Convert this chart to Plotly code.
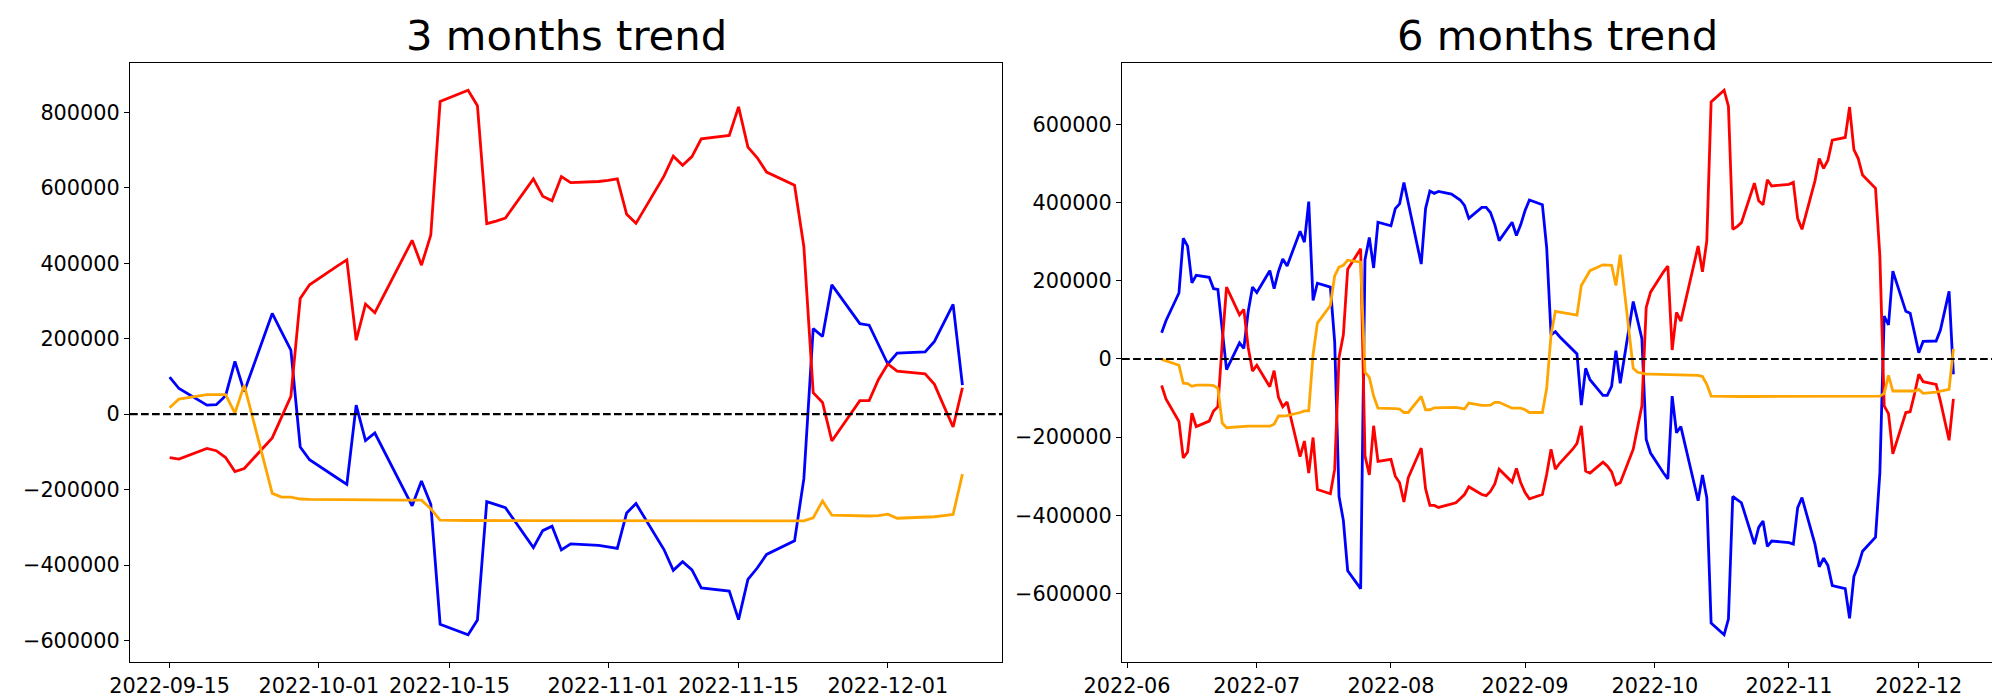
import datetime as _dt
import plotly.graph_objects as go
from plotly.subplots import make_subplots

# ---------------- 3 months data (values in thousands) ----------------
dates_3m = [
    "2022-09-15", "2022-09-16", "2022-09-19", "2022-09-20", "2022-09-21", "2022-09-22", "2022-09-23",
    "2022-09-26", "2022-09-27", "2022-09-28", "2022-09-29", "2022-09-30",
    "2022-10-03", "2022-10-04", "2022-10-05", "2022-10-06", "2022-10-07", "2022-10-10", "2022-10-11",
    "2022-10-12", "2022-10-13", "2022-10-14", "2022-10-17", "2022-10-18", "2022-10-19", "2022-10-20",
    "2022-10-21", "2022-10-24", "2022-10-25", "2022-10-26", "2022-10-27", "2022-10-28", "2022-10-31",
    "2022-11-01", "2022-11-02", "2022-11-03", "2022-11-04", "2022-11-07", "2022-11-08", "2022-11-09",
    "2022-11-10", "2022-11-11", "2022-11-14", "2022-11-15", "2022-11-16", "2022-11-17", "2022-11-18",
    "2022-11-21", "2022-11-22", "2022-11-23", "2022-11-24", "2022-11-25", "2022-11-28", "2022-11-29",
    "2022-11-30",
    "2022-12-01", "2022-12-02", "2022-12-05", "2022-12-06", "2022-12-07", "2022-12-08", "2022-12-09",
]
blue_3m = [
    98, 68, 24, 25, 49, 140, 60, 267, 218, 170, -87, -121,
    -170, -186, 24, -70, -50, -197, -243, -177, -239, -557, -585, -546, -232, -240, -248, -354, -309,
    -297, -360, -344, -348,
    -352, -356, -262, -237, -359, -414, -391, -413, -461, -469, -545, -438, -408, -372, -336, -171,
    227, 206, 343, 240, 236, 184,
    133, 162, 165, 193, 242, 291, 77,
]
red_3m = [
    -115, -119, -91, -97, -115, -152, -144, -63, -8, 47, 307, 343,
    393, 409, 196, 292, 269, 413, 461, 395, 475, 829, 859, 818, 505, 512, 520, 624, 578, 566, 630,
    614, 617,
    620, 624, 530, 506, 631, 684, 660, 683, 730, 739, 815, 708, 680, 642, 607, 444, 57, 31, -71,
    36, 36, 92,
    133, 114, 107, 79, 22, -34, 70,
]
orange_3m = [
    17, 40, 52, 52, 52, 3, 77, -210, -220, -220, -225, -226,
    -227, -227, -228, -228, -228, -228, -228, -228, -251, -281, -282, -282, -282, -282, -282, -282,
    -282, -282, -282, -282, -282,
    -282, -282, -282, -282, -282, -282, -282, -282, -282, -282, -282, -282, -282, -282, -283, -283,
    -275, -230, -268, -270, -270, -269,
    -265, -276, -274, -272, -269, -266, -159,
]

# ---------------- 6 months data (values in thousands) ----------------
dates_6m = [
    "2022-06-09", "2022-06-10", "2022-06-13", "2022-06-14", "2022-06-15", "2022-06-16", "2022-06-17",
    "2022-06-20", "2022-06-21", "2022-06-22", "2022-06-23", "2022-06-24", "2022-06-27", "2022-06-28",
    "2022-06-29", "2022-06-30",
    "2022-07-01", "2022-07-04", "2022-07-05", "2022-07-06", "2022-07-07", "2022-07-08", "2022-07-11",
    "2022-07-12", "2022-07-13", "2022-07-14", "2022-07-15", "2022-07-18", "2022-07-19", "2022-07-20",
    "2022-07-21", "2022-07-22", "2022-07-25", "2022-07-26", "2022-07-27", "2022-07-28", "2022-07-29",
    "2022-08-01", "2022-08-02", "2022-08-03", "2022-08-04", "2022-08-05", "2022-08-08", "2022-08-09",
    "2022-08-10", "2022-08-11", "2022-08-12", "2022-08-15", "2022-08-16", "2022-08-17", "2022-08-18",
    "2022-08-19", "2022-08-22", "2022-08-23", "2022-08-24", "2022-08-25", "2022-08-26", "2022-08-29",
    "2022-08-30", "2022-08-31",
    "2022-09-01", "2022-09-02", "2022-09-05", "2022-09-06", "2022-09-07", "2022-09-08", "2022-09-09",
    "2022-09-12", "2022-09-13", "2022-09-14", "2022-09-15", "2022-09-16", "2022-09-19", "2022-09-20",
    "2022-09-21", "2022-09-22", "2022-09-23", "2022-09-26", "2022-09-27", "2022-09-28", "2022-09-29",
    "2022-09-30",
    "2022-10-03", "2022-10-04", "2022-10-05", "2022-10-06", "2022-10-07", "2022-10-10", "2022-10-11",
    "2022-10-12", "2022-10-13", "2022-10-14", "2022-10-17", "2022-10-18", "2022-10-19", "2022-10-20",
    "2022-10-21", "2022-10-24", "2022-10-25", "2022-10-26", "2022-10-27", "2022-10-28", "2022-10-31",
    "2022-11-01", "2022-11-02", "2022-11-03", "2022-11-04", "2022-11-07", "2022-11-08", "2022-11-09",
    "2022-11-10", "2022-11-11", "2022-11-14", "2022-11-15", "2022-11-16", "2022-11-17", "2022-11-18",
    "2022-11-21", "2022-11-22", "2022-11-23", "2022-11-24", "2022-11-25", "2022-11-28", "2022-11-29",
    "2022-11-30",
    "2022-12-01", "2022-12-02", "2022-12-05", "2022-12-06", "2022-12-07", "2022-12-08", "2022-12-09",
]
blue_6m = [
    67, 98, 169, 309, 289, 195, 214, 209, 180, 178, 75, -27, 41, 27, 121, 184,
    170, 226, 180, 224, 256, 238, 327, 299, 403, 150, 194, 184, 43, -352, -413, -542, -588, 254, 311,
    233, 350,
    341, 385, 397, 452, 400, 243, 385, 430, 424, 429, 422, 415, 407, 393, 360, 388, 388, 375, 344,
    303, 350, 316, 344,
    380, 407, 395, 284, 62, 70, 57, 23, 13, -118, -24, -53, -93, -93, -70, 21, -62, 147, 102, 52,
    -206, -241,
    -292, -307, -95, -189, -173, -315, -363, -297, -355, -676, -706, -666, -352, -360, -368, -474,
    -431, -415, -480, -466, -468,
    -470, -474, -381, -355, -474, -532, -510, -529, -580, -588, -664, -557, -529, -492, -456, -292,
    110, 87, 225, 122, 117, 67,
    16, 45, 46, 74, 122, 173, -39,
]
red_6m = [
    -68, -102, -160, -253, -238, -139, -173, -159, -133, -122, 40, 184, 113, 127, 30, -31,
    -16, -71, -30, -98, -122, -110, -250, -210, -292, -201, -334, -345, -282, 4, 62, 230, 282, -248,
    -297, -171, -262,
    -257, -300, -317, -366, -304, -228, -332, -375, -375, -380, -371, -368, -358, -347, -327, -347,
    -350, -339, -320, -282, -315, -280, -317,
    -342, -358, -347, -295, -231, -282, -267, -231, -216, -171, -287, -292, -264, -274, -289, -322,
    -317, -231, -171, -120, 132, 171,
    223, 238, 23, 119, 97, 240, 289, 223, 302, 658, 688, 647, 332, 339, 349, 450, 405, 395, 459,
    443, 445,
    447, 452, 360, 332, 456, 513, 488, 509, 560, 567, 645, 536, 513, 471, 437, 264, -120, -140,
    -243, -137, -135, -90,
    -39, -58, -65, -108, -160, -208, -102,
]
orange_6m = [
    -1, -5, -16, -62, -63, -70, -67, -67, -68, -75, -164, -176, -173, -172, -172, -172,
    -172, -172, -167, -146, -146, -145, -137, -133, -133, 11, 92, 137, 213, 235, 240, 253, 248, -34,
    -47, -95, -126,
    -126, -127, -128, -137, -137, -96, -130, -130, -125, -125, -124, -124, -126, -128, -113, -119,
    -119, -118, -111, -111, -126, -126, -126,
    -130, -137, -137, -75, 62, 122, 120, 115, 112, 188, 208, 226, 241, 241, 240, 188, 267, -24, -34,
    -36, -39, -39,
    -40, -41, -41, -42, -42, -42, -42, -45, -65, -95, -96, -96, -96, -96, -96, -96, -96, -96, -96,
    -96, -96,
    -96, -96, -96, -96, -96, -96, -96, -96, -96, -96, -96, -96, -96, -96, -95, -95, -88, -42, -82,
    -83, -83, -82,
    -78, -88, -85, -83, -81, -78, 26,
]

titles = ["3 months trend", "6 months trend"]
xticks_3m = ["2022-09-15", "2022-10-01", "2022-10-15", "2022-11-01", "2022-11-15", "2022-12-01"]
xticks_6m = ["2022-06-01", "2022-07-01", "2022-08-01", "2022-09-01", "2022-10-01", "2022-11-01", "2022-12-01"]
xticklabels_6m = ["2022-06", "2022-07", "2022-08", "2022-09", "2022-10", "2022-11", "2022-12"]
yticks_3m = [-600000, -400000, -200000, 0, 200000, 400000, 600000, 800000]
yticks_6m = [-600000, -400000, -200000, 0, 200000, 400000, 600000]

SCALE = 1000
FONT = "DejaVu Sans"


def date_range_padded(dates, frac=0.05):
    d0 = _dt.datetime.fromisoformat(dates[0])
    d1 = _dt.datetime.fromisoformat(dates[-1])
    pad = (d1 - d0) * frac
    return [(d0 - pad).isoformat(), (d1 + pad).isoformat()]


def val_range_padded(series_list, frac=0.05):
    allv = [v * SCALE for s in series_list for v in s]
    lo, hi = min(allv), max(allv)
    pad = (hi - lo) * frac
    return [lo - pad, hi + pad]


def fmt(v):
    return ("\u2212" + str(-v)) if v < 0 else str(v)


fig = make_subplots(rows=1, cols=2)

panels = [
    (1, dates_3m, blue_3m, red_3m, orange_3m),
    (2, dates_6m, blue_6m, red_6m, orange_6m),
]
for col, dts, b, r, o in panels:
    for ser, color in ((b, "blue"), (r, "red"), (o, "orange")):
        fig.add_trace(
            go.Scatter(x=dts, y=[v * SCALE for v in ser], mode="lines",
                       line=dict(color=color, width=2.8), showlegend=False,
                       hoverinfo="skip"),
            row=1, col=col,
        )
    fig.add_hline(y=0, line=dict(color="black", width=2.1, dash="7.7px,3.3px"), row=1, col=col)

axis_common = dict(
    showline=True, linecolor="black", linewidth=1.1, mirror=True, automargin=False,
    showgrid=False, zeroline=False, ticks="outside", ticklen=5, tickwidth=1.1,
    tickcolor="black", tickfont=dict(family=FONT, size=20.8, color="black"),
)

dom1 = [0.0, 0.4681]
dom2 = [0.5325, 1.0]

fig.update_xaxes(axis_common)
fig.update_yaxes(axis_common)

fig.update_layout(
    xaxis=dict(domain=dom1, type="date", range=date_range_padded(dates_3m),
               tickmode="array", tickvals=xticks_3m, ticktext=xticks_3m),
    xaxis2=dict(domain=dom2, type="date", range=date_range_padded(dates_6m),
                tickmode="array", tickvals=xticks_6m, ticktext=xticklabels_6m),
    yaxis=dict(range=val_range_padded([blue_3m, red_3m, orange_3m]),
               tickmode="array", tickvals=yticks_3m, ticktext=[fmt(v) for v in yticks_3m]),
    yaxis2=dict(range=val_range_padded([blue_6m, red_6m, orange_6m]),
                tickmode="array", tickvals=yticks_6m, ticktext=[fmt(v) for v in yticks_6m]),
    width=2000, height=700,
    margin=dict(l=122, r=15, t=55, b=46),
    paper_bgcolor="white", plot_bgcolor="white",
    font=dict(family=FONT, color="black"),
    showlegend=False,
)

for title, dom in zip(titles, (dom1, dom2)):
    fig.add_annotation(
        text=title, xref="paper", yref="paper", x=(dom[0] + dom[1]) / 2, y=1.0,
        xanchor="center", yanchor="bottom", yshift=2, borderpad=0, showarrow=False,
        font=dict(family=FONT, size=41.7, color="black"),
    )

fig.write_html("out.html")
